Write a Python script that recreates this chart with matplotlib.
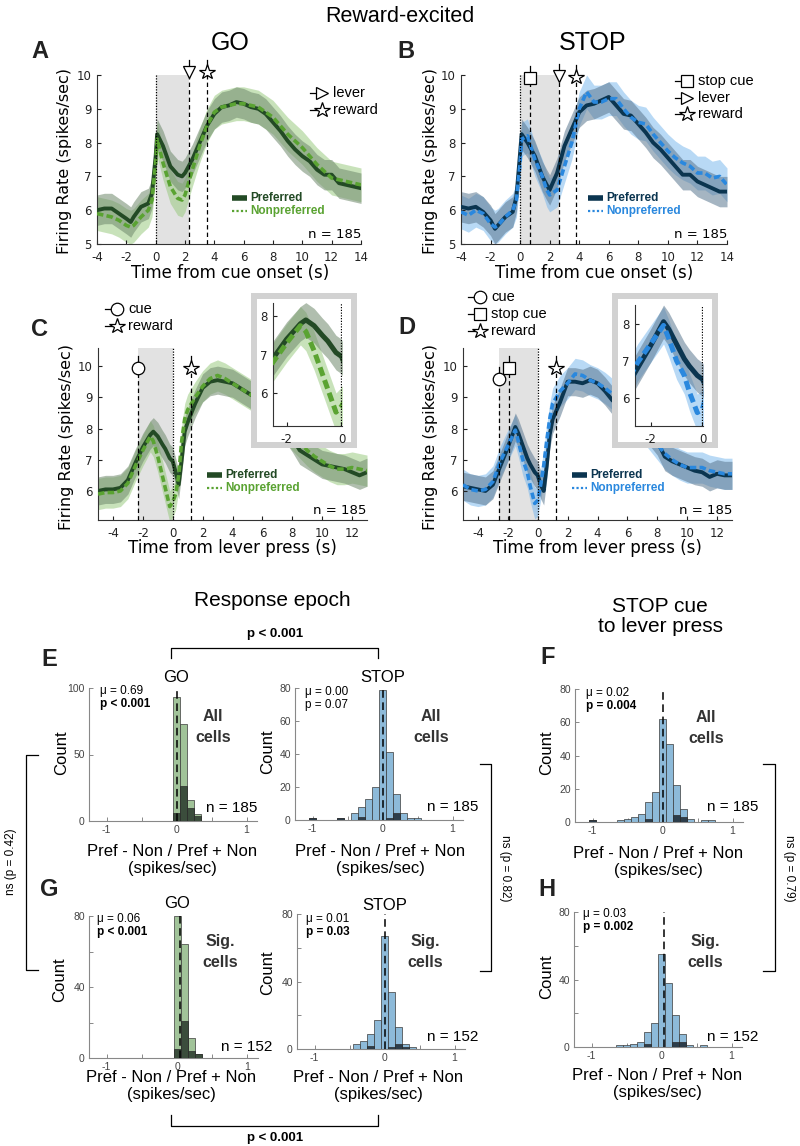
import numpy as np
import matplotlib
matplotlib.use('Agg')
import matplotlib.pyplot as plt
from matplotlib.patches import Rectangle

plt.rcParams['font.family'] = ['Liberation Sans', 'DejaVu Sans']
plt.rcParams['axes.unicode_minus'] = False

# ---------------- data ----------------
# time axis, aligned to cue onset (panels A, B)
cue_t = [-4, -3.5, -3, -2.5, -2, -1.7, -1.5, -1, -0.5, -0.25,
         0, 0.1, 0.5, 1, 1.5, 1.8, 2, 2.5, 3, 3.5,
         4, 4.5, 5, 5.5, 6, 6.5, 7, 7.5, 8, 8.5,
         9, 9.5, 10, 10.5, 11, 11.5, 12, 12.5, 13, 13.5, 14]
go_cue_pref = [6.0, 6.05, 6.05, 5.9, 5.75, 5.65, 5.8, 6.1, 6.2, 6.5,
               7.6, 8.25, 7.9, 7.3, 7.05, 7.0, 7.1, 7.5, 8.0, 8.5,
               8.85, 9.05, 9.1, 9.2, 9.15, 9.05, 9.0, 8.85, 8.6, 8.35,
               8.05, 7.8, 7.6, 7.45, 7.2, 7.05, 7.05, 6.8, 6.75, 6.7, 6.65]
go_cue_non = [5.9, 5.85, 5.8, 5.7, 5.55, 5.5, 5.55, 5.8, 6.0, 6.3,
              7.4, 8.1, 7.4, 6.7, 6.35, 6.3, 6.45, 7.2, 7.9, 8.5,
              8.9, 9.05, 9.1, 9.15, 9.15, 9.1, 9.05, 8.9, 8.75, 8.5,
              8.25, 8.05, 7.85, 7.6, 7.35, 7.15, 6.95, 6.9, 6.85, 6.8, 6.75]
stop_cue_pref = [6.1, 6.05, 6.1, 5.95, 5.7, 5.45, 5.55, 5.8, 5.95, 6.4,
                 7.7, 8.25, 8.0, 7.6, 7.0, 6.75, 6.6, 7.1, 7.9, 8.4,
                 8.9, 9.1, 9.15, 9.25, 9.35, 9.1, 8.85, 8.8, 8.55, 8.3,
                 8.0, 7.8, 7.55, 7.3, 7.05, 7.05, 6.85, 6.75, 6.65, 6.55, 6.55]
stop_cue_non = [5.95, 5.85, 6.0, 5.9, 5.6, 5.5, 5.55, 5.8, 6.0, 6.3,
                7.4, 8.1, 8.2, 7.5, 7.0, 6.6, 6.45, 6.6, 7.3, 8.0,
                9.0, 9.5, 9.2, 9.2, 9.3, 9.3, 9.0, 8.75, 8.6, 8.55,
                8.25, 8.0, 7.75, 7.55, 7.4, 7.3, 7.1, 7.1, 6.95, 7.0, 6.75]

# time axis, aligned to lever press (panels C, D and insets)
lever_t = [-5, -4.5, -4, -3.5, -3, -2.5, -2, -1.5, -1.3, -1,
           -0.7, -0.5, -0.2, 0, 0.2, 0.4, 0.6, 0.8, 1, 1.5,
           2, 2.5, 3, 3.5, 4, 4.5, 5, 5.5, 6, 6.5,
           7, 7.5, 8, 8.5, 9, 9.5, 10, 10.5, 11, 11.5, 12, 12.5, 13]
go_lev_pref = [6.0, 6.05, 6.05, 6.1, 6.35, 6.9, 7.4, 7.8, 7.9, 7.75,
               7.5, 7.35, 7.05, 6.95, 6.6, 6.2, 7.0, 7.9, 8.2, 8.8,
               9.3, 9.5, 9.55, 9.5, 9.45, 9.3, 9.15, 9.0, 8.8, 8.6,
               8.4, 8.05, 7.7, 7.3, 7.15, 7.0, 6.85, 6.8, 6.75, 6.7, 6.6, 6.5, 6.6]
go_lev_non = [5.9, 5.95, 5.95, 6.0, 6.25, 6.8, 7.3, 7.75, 7.6, 7.1,
              6.5, 6.1, 5.5, 5.65, 5.9, 6.5, 7.6, 8.3, 8.6, 9.0,
              9.35, 9.6, 9.7, 9.6, 9.45, 9.3, 9.15, 9.0, 8.8, 8.6,
              8.4, 8.1, 7.8, 7.55, 7.3, 7.1, 6.95, 6.8, 6.7, 6.7, 6.75, 6.7, 6.65]
stop_lev_pref = [6.15, 6.1, 6.05, 6.0, 6.2, 6.8, 7.4, 8.05, 7.85, 7.45,
                 7.05, 6.85, 6.6, 6.5, 6.2, 6.0, 6.8, 7.8, 8.3, 8.85,
                 9.5, 9.5, 9.45, 9.55, 9.45, 9.2, 8.9, 8.75, 8.6, 8.4,
                 8.2, 7.9, 7.6, 7.1, 6.95, 6.85, 6.75, 6.65, 6.6, 6.45, 6.55, 6.5, 6.5]
stop_lev_non = [6.2, 6.05, 6.0, 6.05, 6.3, 6.95, 7.45, 7.95, 7.6, 7.0,
                6.6, 6.15, 5.6, 5.7, 6.2, 6.8, 7.6, 8.3, 8.8, 9.2,
                9.45, 9.75, 9.7, 9.55, 9.45, 9.3, 9.1, 8.85, 8.6, 8.35,
                8.1, 7.8, 7.5, 7.2, 7.0, 6.85, 6.75, 6.75, 6.75, 6.65, 6.6, 6.55, 6.55]

# standard error half-widths
sem_go = (0.45, 0.5)
sem_stop = (0.45, 0.5)

# event times (s)
go_cue_events = {'lever': 2.3, 'reward': 3.5}
stop_cue_events = {'stop cue': 0.7, 'lever': 2.6, 'reward': 3.8}
go_lev_events = {'cue': -2.3, 'reward': 1.2}
stop_lev_events = {'cue': -2.6, 'stop cue': -1.9, 'reward': 1.2}

# histograms
hist_x = [-1.0, -0.9, -0.8, -0.7, -0.6, -0.5, -0.4, -0.3, -0.2, -0.1,
          0.0, 0.1, 0.2, 0.3, 0.4, 0.5, 0.6, 0.7]
e_go_all = [0, 0, 0, 0, 0, 0, 0, 0, 0, 0, 93, 73, 16, 5, 0, 0, 0, 0]
e_go_sig = [0, 0, 0, 0, 0, 0, 0, 0, 0, 0, 6, 26, 10, 4, 0, 0, 0, 0]
e_stop_all = [1, 0, 0, 0, 1, 0, 4, 8, 13, 20, 79, 41, 16, 4, 1, 1, 0, 0]
e_stop_sig = [1, 0, 0, 0, 1, 0, 0, 2, 0, 0, 0, 1, 4, 0, 0, 0, 0, 0]
f_all = [1, 0, 0, 0, 1, 2, 3, 5, 12, 18, 62, 47, 22, 8, 2, 0, 1, 1]
f_sig = [1, 0, 0, 0, 0, 0, 0, 0, 2, 0, 0, 0, 4, 3, 0, 0, 0, 0]
g_go_all = [0, 0, 0, 0, 0, 0, 0, 0, 0, 0, 80, 64, 11, 2, 0, 0, 0, 0]
g_go_sig = [0, 0, 0, 0, 0, 0, 0, 0, 0, 0, 5, 21, 4, 2, 0, 0, 0, 0]
g_stop_all = [0, 0, 0, 0, 0, 0, 3, 5, 9, 17, 67, 34, 13, 3, 1, 0, 0, 0]
g_stop_sig = [0, 0, 0, 0, 0, 0, 0, 0, 2, 0, 0, 1, 3, 1, 0, 0, 0, 0]
h_all = [0, 0, 0, 0, 1, 1, 2, 3, 9, 14, 55, 38, 19, 8, 1, 0, 1, 0]
h_sig = [0, 0, 0, 0, 0, 0, 0, 0, 2, 0, 0, 0, 3, 3, 0, 0, 0, 0]
hist_means = {'E_go': 0.0, 'E_stop': 0.01, 'F': 0.01, 'G_go': 0.04, 'G_stop': 0.01, 'H': 0.04}

# ---------------- colours ----------------
GO_DARK, GO_LIGHT = '#234a25', '#5aa332'
GO_BAND_P, GO_BAND_N = '#6f8a6c', '#93c777'
ST_DARK, ST_LIGHT = '#0b3550', '#2a88de'
ST_BAND_P, ST_BAND_N = '#5b7890', '#72b4ec'
SHADE = '#e2e2e2'

W, H = 800, 1146
fig = plt.figure(figsize=(W / 100, H / 100), dpi=100)


def rect(l, t, r, b):
    return [l / W, 1 - b / H, (r - l) / W, (b - t) / H]


def traces(ax, t, pref, non, sem, cols, lw_p=2.8, lw_n=2.6):
    dark, light, bp, bn = cols
    t = np.array(t); pref = np.array(pref); non = np.array(non)
    ax.fill_between(t, non - sem[1], non + sem[1], color=bn, alpha=0.5, lw=0, zorder=1)
    ax.fill_between(t, pref - sem[0], pref + sem[0], color=bp, alpha=0.55, lw=0, zorder=1)
    ax.plot(t, pref, color=dark, lw=lw_p, zorder=3)
    ax.plot(t, non, color=light, lw=lw_n, dashes=(1.8, 0.9), zorder=4)


def style_time(ax):
    for s in ('top', 'right'):
        ax.spines[s].set_visible(False)
    for s in ('left', 'bottom'):
        ax.spines[s].set_linewidth(0.8)
        ax.spines[s].set_color('#333333')
    ax.tick_params(direction='in', length=3, width=0.8, labelsize=8.5,
                   colors='#222222')
    ax.tick_params(axis='x', pad=5)
    ax.tick_params(axis='y', pad=4)
    for lab in ax.get_xticklabels() + ax.get_yticklabels():
        lab.set_family('DejaVu Sans')
    ax.set_facecolor('none')


MK = {'lever': ('v', 9), 'reward': ('*', 11.5), 'stop cue': ('s', 9), 'cue': ('o', 9)}


def events(ax, ev, ypos, shade_from, shade_to):
    ax.axvspan(shade_from, shade_to, color=SHADE, lw=0, zorder=0)
    ax.axvline(0, color='k', ls=(0, (1, 1.2)), lw=0.9, zorder=5)
    tr = ax.get_xaxis_transform()
    for name, x in ev.items():
        y = ypos[name]
        ax.plot([x, x], [0, y], color='k', lw=0.9, ls=(0, (3.5, 2.5)),
                transform=tr, zorder=5, clip_on=False)
        ax.plot([x, x], [y, y + 0.07], color='k', lw=0.9, transform=tr,
                zorder=5, clip_on=False)
        m, ms = MK[name]
        ax.plot([x], [y], marker=m, ms=ms, mfc='white', mec='k', mew=0.9,
                transform=tr, zorder=6, clip_on=False)


# ---------------- A ----------------
axA = fig.add_axes(rect(97, 75, 361, 244))
traces(axA, cue_t, go_cue_pref, go_cue_non, sem_go, (GO_DARK, GO_LIGHT, GO_BAND_P, GO_BAND_N))
axA.set_xlim(-4, 14); axA.set_ylim(5, 10)
axA.set_xticks(range(-4, 15, 2)); axA.set_yticks(range(5, 11))
events(axA, go_cue_events, {'lever': 1.02, 'reward': 1.02}, 0, go_cue_events['lever'])
style_time(axA)

# ---------------- B ----------------
axB = fig.add_axes(rect(461, 75, 727, 244))
traces(axB, cue_t, stop_cue_pref, stop_cue_non, sem_stop, (ST_DARK, ST_LIGHT, ST_BAND_P, ST_BAND_N))
axB.set_xlim(-4, 14); axB.set_ylim(5, 10)
axB.set_xticks(range(-4, 15, 2)); axB.set_yticks(range(5, 11))
events(axB, stop_cue_events, {'stop cue': 0.985, 'lever': 0.995, 'reward': 0.99}, 0,
       stop_cue_events['lever'])
style_time(axB)

# ---------------- C ----------------
axC = fig.add_axes(rect(98, 348, 367, 520))
traces(axC, lever_t, go_lev_pref, go_lev_non, sem_go, (GO_DARK, GO_LIGHT, GO_BAND_P, GO_BAND_N))
axC.set_xlim(-5, 13); axC.set_ylim(5.07, 10.58)
axC.set_xticks(range(-4, 13, 2)); axC.set_yticks(range(6, 11))
events(axC, go_lev_events, {'cue': 0.882, 'reward': 0.886}, go_lev_events['cue'], 0)
style_time(axC)

# ---------------- D ----------------
axD = fig.add_axes(rect(463, 348, 732, 520))
traces(axD, lever_t, stop_lev_pref, stop_lev_non, sem_stop, (ST_DARK, ST_LIGHT, ST_BAND_P, ST_BAND_N))
axD.set_xlim(-5, 13); axD.set_ylim(5.07, 10.58)
axD.set_xticks(range(-4, 13, 2)); axD.set_yticks(range(6, 11))
events(axD, stop_lev_events, {'cue': 0.818, 'stop cue': 0.882, 'reward': 0.882},
       stop_lev_events['cue'], 0)
style_time(axD)


# ---------------- insets ----------------
def frame(l, t, r, b, bw=6):
    fr = fig.add_axes(rect(l, t, r, b))
    fr.set_xlim(0, r - l); fr.set_ylim(b - t, 0); fr.axis('off')
    fr.add_patch(Rectangle((0, 0), r - l, b - t, facecolor='#d2d2d2', edgecolor='none'))
    fr.add_patch(Rectangle((bw, bw), r - l - 2 * bw, b - t - 2 * bw,
                           facecolor='white', edgecolor='none'))


frame(251, 293, 357, 448)
insC = fig.add_axes(rect(273, 303, 342, 426))
traces(insC, lever_t, go_lev_pref, go_lev_non, sem_go, (GO_DARK, GO_LIGHT, GO_BAND_P, GO_BAND_N),
       lw_p=3.6, lw_n=3.6)
insC.axvline(0, color='k', ls=(0, (1, 1.2)), lw=0.9, zorder=5)
insC.set_xlim(-2.5, 0.02); insC.set_ylim(5.14, 8.34)
insC.set_xticks([-2, 0]); insC.set_yticks([6, 7, 8])
style_time(insC)

frame(612, 293, 718, 448)
insD = fig.add_axes(rect(635, 305, 703, 426))
traces(insD, lever_t, stop_lev_pref, stop_lev_non, sem_stop, (ST_DARK, ST_LIGHT, ST_BAND_P, ST_BAND_N),
       lw_p=3.6, lw_n=3.6)
insD.axvline(0, color='k', ls=(0, (1, 1.2)), lw=0.9, zorder=5)
insD.set_xlim(-2.6, 0.02); insD.set_ylim(5.24, 8.5)
insD.set_xticks([-2, 0]); insD.set_yticks([6, 7, 8])
style_time(insD)


# ---------------- histograms ----------------
def hist(box, all_c, sig_c, face, dark, mean, top, yt, ylab, ymin=None):
    ax = fig.add_axes(rect(*box))
    x = np.array(hist_x); a = np.array(all_c); s = np.array(sig_c)
    ax.bar(x[a > 0], a[a > 0], width=0.1, color=face, edgecolor='#3a3a3a', lw=0.5, zorder=2)
    ax.bar(x[s > 0], s[s > 0], width=0.1, color=dark, edgecolor='#2a2a2a', lw=0.5, zorder=3)
    ax.axvline(mean, color='k', lw=1.1, ls=(0, (5, 3)), zorder=4)
    ax.set_xlim(-1.25, 1.15); ax.set_ylim(0, top)
    ax.set_xticks([-1, 0, 1]); ax.set_xticks([-0.5, 0.5], minor=True)
    ax.set_yticks(yt); ax.set_yticklabels(ylab)
    if ymin is not None:
        ax.set_yticks(ymin, minor=True)
    for sp in ('top', 'right'):
        ax.spines[sp].set_visible(False)
    for sp in ('left', 'bottom'):
        ax.spines[sp].set_color('#888888'); ax.spines[sp].set_linewidth(0.8)
    ax.tick_params(which='both', direction='in', length=3, width=0.7, color='#888888',
                   labelsize=7.5, labelcolor='#444444', pad=3)
    ax.set_facecolor('none')
    return ax


GO_BAR, GO_SIG = '#a1c399', '#3b4d3c'
ST_BAR, ST_SIG = '#8dbad9', '#2c3d4b'
hist((89, 688, 257, 821), e_go_all, e_go_sig, GO_BAR, GO_SIG, hist_means['E_go'], 100,
     [0, 50, 100], ['0', '50', '100'])
hist((295, 688, 463, 820), e_stop_all, e_stop_sig, ST_BAR, ST_SIG, hist_means['E_stop'], 80,
     [0, 20, 40, 60, 80], ['0', '20', '40', '60', '80'])
hist((575, 689, 743, 822), f_all, f_sig, ST_BAR, ST_SIG, hist_means['F'], 80,
     [0, 20, 40, 60, 80], ['0', '20', '40', '60', '80'])
hist((89, 916, 258, 1058), g_go_all, g_go_sig, GO_BAR, GO_SIG, hist_means['G_go'], 80,
     [0, 40, 80], ['0', '40', '80'], [20, 60])
hist((297, 914, 465, 1049), g_stop_all, g_stop_sig, ST_BAR, ST_SIG, hist_means['G_stop'], 80,
     [0, 40, 80], ['0', '40', '80'], [20, 60])
hist((574, 912, 742, 1047), h_all, h_sig, ST_BAR, ST_SIG, hist_means['H'], 80,
     [0, 40, 80], ['0', '40', '80'], [20, 60])

# ---------------- overlay: text, keys, brackets ----------------
ov = fig.add_axes([0, 0, 1, 1])
ov.set_xlim(0, W); ov.set_ylim(H, 0); ov.axis('off')


def txt(x, y, s, size, ha='center', **kw):
    ov.text(x, y, s, fontsize=size, ha=ha, va='center', **kw)


txt(400, 16, 'Reward-excited', 15.5)
txt(230, 43, 'GO', 18)
txt(593, 43, 'STOP', 18)
for lab, x, y in [('A', 40, 52), ('B', 406, 52), ('C', 40, 329), ('D', 407, 328),
                  ('E', 49, 660), ('F', 548, 658), ('G', 49, 889), ('H', 547, 889)]:
    txt(x, y, lab, 17, weight='bold', color='#222222')

DV = 'DejaVu Sans'
for x, y in [(230, 273), (594, 273)]:
    txt(x, y, 'Time from cue onset (s)', 12, family=DV)
for x, y in [(232, 548), (597, 548)]:
    txt(x, y, 'Time from lever press (s)', 12, family=DV)
for x, y in [(64, 161), (431, 161), (66, 437), (431, 437)]:
    txt(x, y, 'Firing Rate (spikes/sec)', 11.5, family=DV, rotation=90)
for x, y in [(361, 235), (727, 235), (366, 511), (732, 511)]:
    txt(x, y, 'n = 185', 9.5, ha='right', family=DV)


def key(xm, y, name, label):
    m, ms = MK[name]
    if m == 'v':
        m = '>'
    ov.plot([xm - 12, xm - 5], [y, y], color='k', lw=0.9)
    ov.plot([xm], [y], marker=m, ms=ms, mfc='white', mec='k', mew=0.9)
    txt(xm + 11, y, label, 10.5, ha='left')


key(322, 93, 'lever', 'lever'); key(322, 110, 'reward', 'reward')
key(687, 81, 'stop cue', 'stop cue'); key(687, 98, 'lever', 'lever'); key(687, 114, 'reward', 'reward')
key(117, 309, 'cue', 'cue'); key(117, 326, 'reward', 'reward')
key(480, 297, 'cue', 'cue'); key(480, 314, 'stop cue', 'stop cue'); key(480, 331, 'reward', 'reward')


def pref_key(x, y, dark, light):
    ov.plot([x, x + 15], [y, y], color=dark, lw=4, solid_capstyle='butt')
    ov.plot([x, x + 15], [y + 13, y + 13], color=light, lw=1.6, ls=(0, (1, 1)))
    txt(x + 18, y, 'Preferred', 8.5, ha='left', weight='bold', color=dark)
    txt(x + 18, y + 13, 'Nonpreferred', 8.5, ha='left', weight='bold', color=light)


pref_key(232, 198, GO_DARK, GO_LIGHT)
pref_key(588, 198, ST_DARK, ST_LIGHT)
pref_key(207, 475, GO_DARK, GO_LIGHT)
pref_key(572, 475, ST_DARK, ST_LIGHT)

# section titles
txt(272, 600, 'Response epoch', 15)
txt(660, 607, 'STOP cue', 15)
txt(660, 627, 'to lever press', 15)

# histogram annotations
hist_text = [
    # title, title pos, mu, p, p bold, mu pos, group, group pos, n, n pos, xlab center, ylab pos
    ('GO', (176, 678), 'μ = 0.69', 'p < 0.001', True, (100, 691), 'All\ncells', (213, 727),
     'n = 185', (257, 808), (172, 852), (62, 753)),
    ('STOP', (383, 677), 'μ = 0.00', 'p = 0.07', False, (305, 692), 'All\ncells', (431, 727),
     'n = 185', (478, 807), (380, 852), (268, 752)),
    (None, None, 'μ = 0.02', 'p = 0.004', True, (586, 693), 'All\ncells', (706, 728),
     'n = 185', (758, 807), (658, 853), (547, 753)),
    ('GO', (177, 903), 'μ = 0.06', 'p < 0.001', True, (97, 919), 'Sig.\ncells', (220, 952),
     'n = 152', (272, 1047), (171, 1078), (60, 980)),
    ('STOP', (385, 906), 'μ = 0.01', 'p = 0.03', True, (306, 919), 'Sig.\ncells', (425, 952),
     'n = 152', (478, 1037), (378, 1078), (268, 973)),
    (None, None, 'μ = 0.03', 'p = 0.002', True, (583, 914), 'Sig.\ncells', (705, 952),
     'n = 152', (758, 1037), (657, 1075), (547, 977)),
]
for (title, tpos, mu, p, pb, mpos, grp, gpos, n, npos, xl, yl) in hist_text:
    if title:
        txt(tpos[0], tpos[1], title, 12)
    txt(mpos[0], mpos[1], mu, 8.5, ha='left')
    txt(mpos[0], mpos[1] + 13, p, 8.5, ha='left', weight='bold' if pb else 'normal')
    ov.text(gpos[0], gpos[1], grp, fontsize=11.5, ha='center', va='center',
            weight='bold', color='#333333', linespacing=1.45)
    txt(npos[0], npos[1], n, 11, ha='right')
    txt(xl[0], xl[1], 'Pref - Non / Pref + Non', 12)
    txt(xl[0], xl[1] + 17, '(spikes/sec)', 12)
    txt(yl[0], yl[1], 'Count', 12, rotation=90)

# comparison brackets
ov.plot([171, 171, 378, 378], [658, 648, 648, 658], color='k', lw=0.9)
txt(275, 634, 'p < 0.001', 9.5, weight='bold')
ov.plot([171, 171, 378, 378], [1115, 1126, 1126, 1115], color='k', lw=0.9)
txt(275, 1138, 'p < 0.001', 9.5, weight='bold')
ov.plot([38, 26, 26, 38], [755, 755, 970, 970], color='k', lw=0.9)
txt(11, 862, 'ns (p = 0.42)', 8.5, rotation=90)
ov.plot([480, 491, 491, 480], [764, 764, 971, 971], color='k', lw=0.9)
txt(505, 868, 'ns (p = 0.82)', 8.5, rotation=270)
ov.plot([763, 775, 775, 763], [764, 764, 971, 971], color='k', lw=0.9)
txt(789, 868, 'ns (p = 0.79)', 8.5, rotation=270)

fig.savefig('out.png', dpi=100)
